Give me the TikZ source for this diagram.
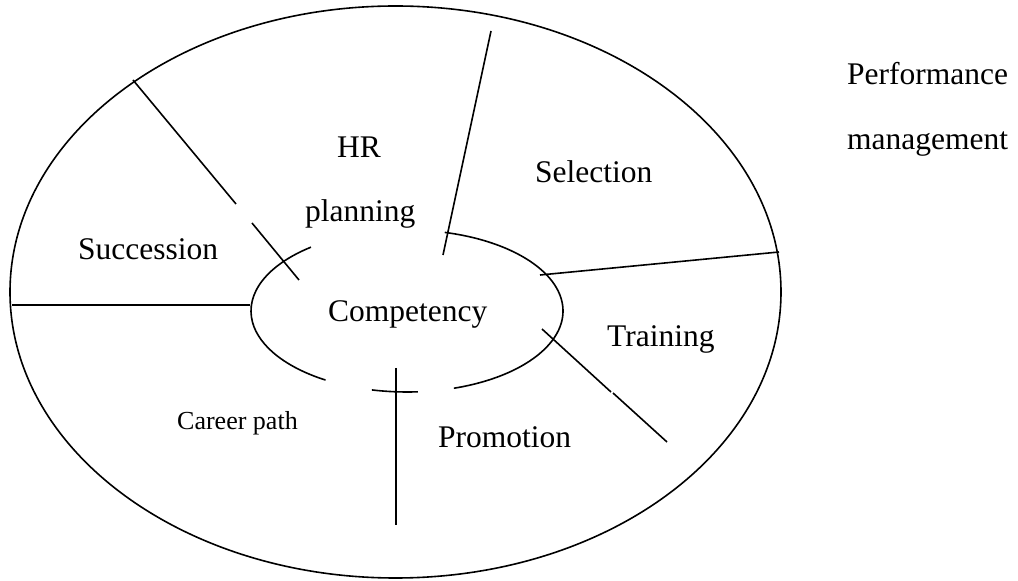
\documentclass[tikz,border=0pt]{standalone}
\usepackage{fontspec}
\setmainfont{Liberation Serif}
\begin{document}
\begin{tikzpicture}[x=1pt,y=1pt,
  ln/.style={line width=1.6pt,line cap=butt},
  lbl/.style={anchor=base west,inner sep=0pt,font=\fontsize{31.5}{36}\selectfont},
  small/.style={anchor=base west,inner sep=0pt,font=\fontsize{26}{30}\selectfont}]
\useasboundingbox (0,0) rectangle (1018,581);
% outer ellipse
\draw[ln] (395.5,289) ellipse [x radius=385.5,y radius=286];
% inner ellipse (with gaps)
\coordinate (ic) at (407,270);
\draw[ln] ([shift={(-72.5:156 and 81)}]ic) arc [start angle=-72.5,end angle=76,x radius=156,y radius=81];
\draw[ln] ([shift={(128:156 and 81)}]ic) arc [start angle=128,end angle=238.5,x radius=156,y radius=81];
\draw[ln] ([shift={(257:156 and 81)}]ic) arc [start angle=257,end angle=274,x radius=156,y radius=81];
% dividers
\coordinate (a1) at (133,501); \coordinate (a2) at (236,377);
\coordinate (a3) at (252,358); \coordinate (a4) at (299,301);
\draw[ln] (a1) -- (a2); \draw[ln] (a3) -- (a4);
\coordinate (b1) at (491,550); \coordinate (b2) at (443,326);
\draw[ln] (b1) -- (b2);
\coordinate (c1) at (540,306); \coordinate (c2) at (779,329);
\draw[ln] (c1) -- (c2);
\coordinate (d1) at (542,252); \coordinate (d2) at (611,189);
\coordinate (d3) at (613,188); \coordinate (d4) at (667,139);
\draw[ln] (d1) -- (d2); \draw[ln] (d3) -- (d4);
\coordinate (e1) at (396,213); \coordinate (e2) at (396,56);
\draw[ln] (e1) -- (e2);
\coordinate (f1) at (12,276); \coordinate (f2) at (250,276);
\draw[ln] (f1) -- (f2);
% labels
\node[lbl] (hr) at (337,423) {HR};
\node[lbl] (plan) at (305,359) {planning};
\node[lbl] (sel) at (535,398) {Selection};
\node[lbl] (suc) at (78,321) {Succession};
\node[lbl] (comp) at (328,259) {Competency};
\node[lbl] (tra) at (607,234) {Training};
\node[lbl] (pro) at (438,133) {Promotion};
\node[small] (car) at (177,151) {Career path};
\node[lbl] (perf) at (847,496) {Performance};
\node[lbl] (man) at (847,431) {management};
\end{tikzpicture}
\end{document}
